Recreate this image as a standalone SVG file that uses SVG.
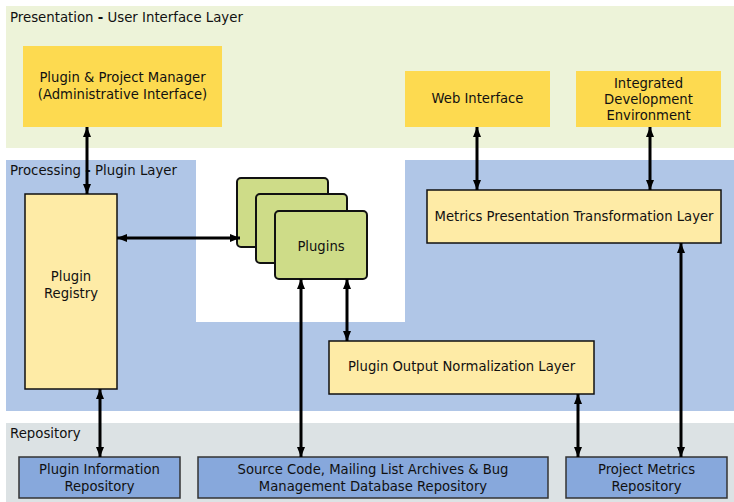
<svg xmlns="http://www.w3.org/2000/svg" width="734" height="502" viewBox="0 0 734 502">
<style>
text{font-family:"DejaVu Sans","Liberation Sans",sans-serif;font-size:13.2px;fill:#111;}
.c{text-anchor:middle;}
.layer{font-size:13.3px;}
.ui{fill:#fdda50;}
.proc{fill:#feeba6;stroke:#111;stroke-width:1.5;}
.plug{fill:#cedc88;stroke:#111;stroke-width:2;}
.repo{fill:#87a8dc;stroke:#333;stroke-width:1.5;}
.conn{stroke:#000;stroke-width:3;fill:none;marker-start:url(#ah);marker-end:url(#ah);}
</style>
<defs>
<marker id="ah" viewBox="0 0 10 8" refX="10" refY="4" markerWidth="10" markerHeight="8" markerUnits="userSpaceOnUse" orient="auto-start-reverse">
<path d="M0,0 L10,4 L0,8 Z" fill="#000"/>
</marker>
</defs>
<g id="layers">
<rect x="6" y="6" width="728" height="142" fill="#edf3d9"/>
<path d="M6,160 H196 V322 H405 V160 H734 V411 H6 Z" fill="#b0c6e7"/>
<rect x="6" y="423" width="728" height="79" fill="#dce2e4"/>
<text class="layer" x="10" y="22">Presentation <tspan font-weight="bold">-</tspan> User Interface Layer</text>
<text class="layer" x="10" y="175">Processing <tspan font-weight="bold">-</tspan> Plugin Layer</text>
<text class="layer" x="10" y="438">Repository</text>
</g>
<g id="plugin-manager">
<rect class="ui" x="23" y="46" width="199" height="81"/>
<text class="c" x="122.5" y="82">Plugin &amp; Project Manager</text>
<text class="c" x="122.5" y="99">(Administrative Interface)</text>
</g>
<g id="web-interface">
<rect class="ui" x="405" y="71" width="145" height="56"/>
<text class="c" x="477.5" y="103">Web Interface</text>
</g>
<g id="ide">
<rect class="ui" x="576" y="71" width="145" height="56"/>
<text class="c" x="648.5" y="88">Integrated</text>
<text class="c" x="648.5" y="104">Development</text>
<text class="c" x="648.5" y="120">Environment</text>
</g>
<g id="plugin-registry">
<rect class="proc" x="25" y="194" width="92" height="195"/>
<text class="c" x="71" y="281">Plugin</text>
<text class="c" x="71" y="298">Registry</text>
</g>
<g id="plugins">
<rect class="plug" x="237" y="178" width="91" height="69" rx="4"/>
<rect class="plug" x="256" y="194" width="91" height="69" rx="4"/>
<rect class="plug" x="275" y="211" width="92" height="68" rx="4"/>
<text class="c" x="321" y="251">Plugins</text>
</g>
<g id="metrics-presentation">
<rect class="proc" x="427" y="190" width="294" height="53"/>
<text class="c" x="574" y="221">Metrics Presentation Transformation Layer</text>
</g>
<g id="plugin-output">
<rect class="proc" x="329" y="341" width="265" height="53"/>
<text class="c" x="461.5" y="371">Plugin Output Normalization Layer</text>
</g>
<g id="plugin-info-repo">
<rect class="repo" x="19" y="457" width="161" height="41"/>
<text class="c" x="99.5" y="474">Plugin Information</text>
<text class="c" x="99.5" y="491">Repository</text>
</g>
<g id="source-repo">
<rect class="repo" x="198" y="457" width="350" height="41"/>
<text class="c" x="373" y="474">Source Code, Mailing List Archives &amp; Bug</text>
<text class="c" x="373" y="491">Management Database Repository</text>
</g>
<g id="project-metrics-repo">
<rect class="repo" x="566" y="457" width="161" height="41"/>
<text class="c" x="646.5" y="474">Project Metrics</text>
<text class="c" x="646.5" y="491">Repository</text>
</g>
<g id="connectors">
<line class="conn" x1="87" y1="127" x2="87" y2="194"/>
<line class="conn" x1="117" y1="238" x2="240" y2="238"/>
<line class="conn" x1="100" y1="389" x2="100" y2="457"/>
<line class="conn" x1="301" y1="279" x2="301" y2="457"/>
<line class="conn" x1="347" y1="279" x2="347" y2="341"/>
<line class="conn" x1="477" y1="127" x2="477" y2="190"/>
<line class="conn" x1="650" y1="127" x2="650" y2="190"/>
<line class="conn" x1="681" y1="243" x2="681" y2="457"/>
<line class="conn" x1="578" y1="394" x2="578" y2="457"/>
</g>
</svg>
